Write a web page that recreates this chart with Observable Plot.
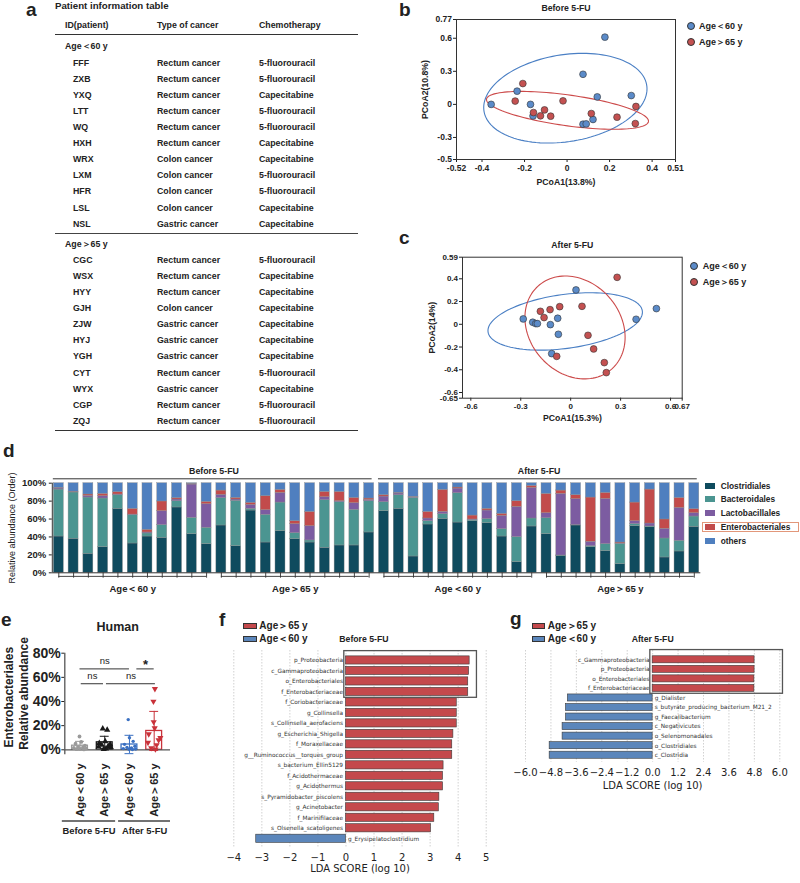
<!DOCTYPE html>
<html><head><meta charset="utf-8">
<script src="https://cdn.jsdelivr.net/npm/d3@7"></script>
<script src="https://cdn.jsdelivr.net/npm/@observablehq/plot@0.6"></script>
<style>
body{margin:0;background:#fff;}
#fig{position:relative;width:800px;height:883px;background:#fff;overflow:hidden;font-family:"Liberation Sans",Arial,sans-serif;color:#222;}
</style></head><body><div id="fig"></div>
<script>
// ---------------- DATA ----------------
// Panel a: patient table
const youngGroupLabel = "Age＜60 y";
const oldGroupLabel = "Age＞65 y";
const tableHeaders = ["ID(patient)", "Type of cancer", "Chemotherapy"];
const youngIds = ["FFF","ZXB","YXQ","LTT","WQ","HXH","WRX","LXM","HFR","LSL","NSL"];
const youngCancer = ["Rectum cancer","Rectum cancer","Rectum cancer","Rectum cancer","Rectum cancer","Rectum cancer","Colon cancer","Colon cancer","Colon cancer","Colon cancer","Gastric cancer"];
const youngChemo = ["5-fluorouracil","5-fluorouracil","Capecitabine","5-fluorouracil","5-fluorouracil","Capecitabine","Capecitabine","5-fluorouracil","5-fluorouracil","Capecitabine","Capecitabine"];
const oldIds = ["CGC","WSX","HYY","GJH","ZJW","HYJ","YGH","CYT","WYX","CGP","ZQJ"];
const oldCancer = ["Rectum cancer","Rectum cancer","Rectum cancer","Colon cancer","Gastric cancer","Gastric cancer","Gastric cancer","Rectum cancer","Gastric cancer","Rectum cancer","Rectum cancer"];
const oldChemo = ["5-fluorouracil","Capecitabine","Capecitabine","Capecitabine","Capecitabine","Capecitabine","Capecitabine","5-fluorouracil","Capecitabine","5-fluorouracil","5-fluorouracil"];

// Panel b: PCoA before 5-FU
const beforeYoungX = [-0.357,-0.235,-0.172,-0.16,0.075,0.178,0.142,0.302,0.075,0.09,0.122];
const beforeYoungY = [0,0.12,0,-0.105,0.273,0.61,0.068,0.08,-0.18,-0.177,-0.137];
const beforeOldX = [-0.208,-0.244,-0.158,-0.125,-0.106,-0.077,-0.019,0.114,0.235,0.324,0.321];
const beforeOldY = [0.189,0.03,-0.074,-0.104,-0.05,-0.107,0.032,-0.083,-0.116,-0.019,-0.174];
// ellipses: [cx, cy, ux, uy, vx, vy] (centre + conjugate semi-axes, data units)
const beforeYoungEllipse = [-0.008,0.056,0.384,0.085,0,0.398];
const beforeOldEllipse = [0.002,-0.054,0.381,-0.098,0,0.141];

// Panel c: PCoA after 5-FU
const afterYoungX = [-0.285,-0.228,-0.21,-0.2,-0.122,-0.078,-0.074,0.032,-0.114,0.393,0.515];
const afterYoungY = [0.047,0.018,0.006,0.006,-0.003,0.053,-0.088,0.302,-0.258,0.044,0.138];
const afterOldX = [-0.182,-0.16,-0.124,-0.066,0.068,0.279,0.104,0.138,0.202,0.214,-0.084];
const afterOldY = [0.114,0.059,0.129,0.155,0.158,0.413,-0.097,-0.217,-0.337,-0.425,-0.282];
const afterYoungEllipse = [-0.033,0.025,0.464,0.081,0,0.239];
const afterOldEllipse = [0.026,-0.028,0.301,-0.087,0,0.444];

// Panel d: relative abundance (Order), 44 samples
const orderNames = ["Clostridiales","Bacteroidales","Lactobacillales","Enterobacteriales","others"];
const clostridiales = [40.5,38,21.2,28.6,71.4,32.7,40.5,39,72.9,43.1,32, 52.8,29.7,69.5,33.8,46.5,37.5,33.8,27.9,30.5,30.5,45, 68.8,71.4,18.2,53.9,60.2,56.1,57.6,55.4,40.5,11.9,51.7, 43.1,19,52.8,28.6,24.2,9.7,52,50.9,17.1,23.8,51.3];
const bacteroidales = [52.4,51.6,62.8,54.3,15.2,31.6,3.4,14.2,7,18.2,18.2, 30.5,50.6,1.9,30.9,31.9,6.7,2.3,53.1,48.3,39.8,34.9, 10,15.2,65.4,3.7,5.2,32.7,1.1,4.5,8.2,27.9,8.9, 17.8,0.3,0.4,1.1,7.8,22.6,2.3,0.8,21.2,11.9,11.5];
const lactobacillales = [1.2,0.6,1.9,2.6,0.8,0.7,1.1,15.6,1.9,37.2,26.4, 3.7,1.5,4.4,5.2,10.8,10.1,15.9,3.4,1.1,7.4,1.5, 6.3,1.9,0.8,3,2.6,5.2,0.8,9.6,14.9,33.8,34.2, 5.6,68.8,29,4.9,50.5,0.4,3.3,3.3,10.8,36.8,3.7];
const enterobacteriales = [0.7,0.4,1.5,2.6,2.6,6.4,3,10.8,1.5,0.8,2.6, 4.8,1.8,2.3,15.6,3.4,3.3,16,5.9,10.4,5.9,1.5, 1.5,0.7,0.4,7.4,24.6,1.2,4.4,1.9,2.2,6.3,2.2, 21.6,3.7,4.4,49.4,6.7,1.1,20.8,37.9,10.4,11.1,4.5];
const others = [5.2,9.4,12.6,11.9,10,28.6,52,20.4,16.7,0.7,20.8, 8.2,16.4,21.9,14.5,7.4,42.4,32,9.7,9.7,16.4,17.1, 13.4,10.8,15.2,32,7.4,4.8,36.1,28.6,34.2,20.1,3, 11.9,8.2,13.4,16,10.8,66.2,21.6,7.1,40.5,16.4,29];
const dGroups = [{label:"Age＜60 y", first:0, last:10},{label:"Age＞65 y", first:11, last:21},{label:"Age＜60 y", first:22, last:32},{label:"Age＞65 y", first:33, last:43}];
const dPeriods = [{label:"Before 5-FU", first:0, last:21},{label:"After 5-FU", first:22, last:43}];

// Panel e: Enterobacteriales relative abundance
const eLabels = ["Age＜60 y","Age＞65 y","Age＜60 y","Age＞65 y"];
const eMeans = [3.4, 6.2, 4.4, 15.6];
const eSD = [3.6, 5.0, 7.6, 16.2];
const eBeforeYoung = [11,6.5,5,3.5,2.5,2,1.5,1,0.8,0.5,0.3];
const eBeforeYoungOffset = [-0.02,0.05,-0.18,0.2,-0.08,0.12,-0.25,0.25,0,-0.14,0.16];
const eBeforeOld = [17.5,16.5,7,5.5,4.5,4,3,2.5,2,1,0.5];
const eBeforeOldOffset = [-0.08,0.1,0.02,-0.22,0.22,-0.12,0.14,-0.25,0.25,0.05,-0.04];
const eAfterYoung = [25,10,7,4.5,3,2,1.5,1,0.6,0.4,0.2];
const eAfterYoungOffset = [-0.05,0,0.15,-0.2,0.22,-0.1,0.08,-0.25,0.25,-0.02,0.12];
const eAfterOld = [50.5,40,23,18,13,10,8,6,4,1.5,0.5];
const eAfterOldOffset = [0.03,-0.03,-0.02,0.02,-0.22,0.25,0.18,-0.25,0.1,-0.12,0.05];
const eSig = [{from:0,to:2,level:67,label:"ns"},{from:2.3,to:3.0,level:67,label:"*"},{from:0.05,to:0.95,level:54.7,label:"ns"},{from:1.07,to:3.05,level:54.7,label:"ns"}];
const ePeriods = ["Before 5-FU","After 5-FU"];

// Panel f: LEfSe before 5-FU
const fTaxa = ["p_Proteobacteria","c_Gammaproteobacteria","o_Enterobacteriales","f_Enterobacteriaceae","f_Coriobacteriaceae","g_Collinsella","s_Collinsella_aerofaciens","g_Escherichia_Shigella","f_Moraxellaceae","g__Ruminococcus__torques_group","s_bacterium_Ellin5129","f_Acidothermaceae","g_Acidothermus","s_Pyramidobacter_piscolens","g_Acinetobacter","f_Marinifilaceae","s_Olsenella_scatoligenes","g_Erysipelatoclostridium"];
const fScores = [4.41,4.39,4.36,4.36,3.95,3.95,3.95,3.83,3.79,3.79,3.48,3.46,3.46,3.33,3.31,3.15,3.03,-3.2];
const fTicks = [-4,-3,-2,-1,0,1,2,3,4,5];

// Panel g: LEfSe after 5-FU
const gTaxa = ["c_Gammaproteobacteria","p_Proteobacteria","o_Enterobacteriales","f_Enterobacteriaceae","g_Dialister","s_butyrate_producing_bacterium_M21_2","g_Faecalibacterium","c_Negativicutes","o_Selenomonadales","o_Clostridiales","c_Clostridia"];
const gScores = [4.81,4.81,4.8,4.8,-4.0,-4.09,-4.09,-4.25,-4.25,-4.86,-4.86];
const gTicks = [-6,-4.8,-3.6,-2.4,-1.2,0,1.2,2.4,3.6,4.8,6];

// ---------------- STYLE ----------------
const FONT = '"Liberation Sans", Arial, sans-serif';
const MPL = '"DejaVu Sans", sans-serif';
const dotColors = ["#5b8bc9","#c45151"];
const ellColors = ["#4a7fc4","#cc4a4a"];
const orderColors = ["#0f4b5e","#4b9591","#7c5ca1","#c24b4b","#4f7fbf"];
const eColors = ["#9a9a9a","#1a1a1a","#3a70c2","#c9323a"];
const ldaRed = "#c4494c", ldaBlue = "#5b86bb";
const MID = {textAnchor:"middle", lineAnchor:"middle"};

const fig = document.getElementById("fig");
function put(node, left, top) { node.style.position="absolute"; node.style.left=left+"px"; node.style.top=top+"px"; fig.appendChild(node); return node; }
function txt(s, x, yc, {size=9, weight="bold", anchor="start", family=FONT, color="#222"}={}) {
  const d = document.createElement("div");
  d.textContent = s;
  Object.assign(d.style, {position:"absolute", left:x+"px", top:(yc-size/2)+"px", fontSize:size+"px", lineHeight:size+"px", fontWeight:weight, fontFamily:family, color, whiteSpace:"nowrap"});
  if (anchor==="middle") d.style.transform="translateX(-50%)";
  if (anchor==="end") d.style.transform="translateX(-100%)";
  fig.appendChild(d); return d;
}
function box(x, y, w, h, css) {
  const d = document.createElement("div");
  Object.assign(d.style, {position:"absolute", left:x+"px", top:y+"px", width:w+"px", height:h+"px", boxSizing:"border-box"}, css);
  fig.appendChild(d); return d;
}
const baseStyle = {background:"transparent", overflow:"visible", color:"#222"};

// ---------------- PANEL LABELS ----------------
[["a",26,9.6],["b",399,9.6],["c",399,237.5],["d",3,450],["e",1,619],["f",219,619],["g",510,618]]
  .forEach(([l,x,y])=>txt(l,x,y,{size:19}));

// ---------------- PANEL a ----------------
txt("Patient information table", 55, 6.2, {size:9.7});
const colX = [65,157,259];
tableHeaders.forEach((h,i)=>txt(h, colX[i], 25.5, {size:8.8}));
box(55, 33.5, 303, 1.4, {background:"#333"});
function tableBlock(label, ids, cancers, chemos, yLabel, yFirst, pitch) {
  txt(label, colX[0], yLabel, {size:8.8});
  ids.forEach((id,i)=>{
    const y = yFirst + pitch*i;
    txt(id, colX[0]+8, y, {size:8.8});
    txt(cancers[i], colX[1], y, {size:8.8});
    txt(chemos[i], colX[2], y, {size:8.8});
  });
}
tableBlock(youngGroupLabel, youngIds, youngCancer, youngChemo, 46, 63.3, 16.07);
box(55, 232.8, 303, 1, {background:"#444"});
tableBlock(oldGroupLabel, oldIds, oldCancer, oldChemo, 244.3, 260.7, 16.03);
box(55, 429.5, 303, 1.6, {background:"#333"});

// ---------------- PANELS b, c ----------------
function ellipsePoints(params, g) {
  const [cx,cy,ux,uy,vx,vy] = params;
  return d3.range(0,121).map(k=>{ const t=2*Math.PI*k/120; return {g, x:cx+ux*Math.cos(t)+vx*Math.sin(t), y:cy+uy*Math.cos(t)+vy*Math.sin(t)}; });
}
function pcoa(o) {
  const pts = [...o.yx.map((x,i)=>({x,y:o.yy[i],g:0})), ...o.ox.map((x,i)=>({x,y:o.oy[i],g:1}))];
  const ell = [...ellipsePoints(o.ey,0), ...ellipsePoints(o.eo,1)];
  return Plot.plot({
    width:400, height:200, marginLeft:o.m[0], marginRight:o.m[1], marginTop:o.m[2], marginBottom:o.m[3],
    style:{...baseStyle, fontFamily:FONT, fontSize:o.fs, fontWeight:"bold"},
    color:{type:"identity"},
    x:{domain:o.xd, ticks:o.xt, tickFormat:d=>String(d), tickSize:3, tickPadding:2, label:null},
    y:{domain:o.yd, ticks:o.yt, tickFormat:d=>String(d), tickSize:3, tickPadding:1.5, label:null},
    marks:[
      Plot.frame({stroke:"#333", strokeWidth:1}),
      Plot.line(ell,{x:"x",y:"y",z:"g",stroke:d=>ellColors[d.g],strokeWidth:1.1}),
      Plot.dot(pts,{x:"x",y:"y",r:3.4,fill:d=>dotColors[d.g],stroke:"#333",strokeWidth:0.6}),
      Plot.text([o.title],{frameAnchor:"top",dy:o.tdy,fontSize:8.7,...MID}),
      Plot.text([o.xl],{frameAnchor:"bottom",dy:o.xdy,fontSize:8.7,...MID}),
      Plot.text([o.yl],{frameAnchor:"left",dx:o.ydx,rotate:-90,fontSize:8.7,...MID})
    ]
  });
}
put(pcoa({yx:beforeYoungX,yy:beforeYoungY,ox:beforeOldX,oy:beforeOldY,ey:beforeYoungEllipse,eo:beforeOldEllipse, fs:"8.5px",
  m:[56,125,19,41], xd:[-0.52,0.51], yd:[-0.5,0.77], xt:[-0.52,-0.4,-0.2,0,0.2,0.4,0.51], yt:[-0.5,-0.3,0,0.3,0.6,0.77],
  title:"Before 5-FU", tdy:-11, xl:"PCoA1(13.8%)", xdy:22.7, yl:"PCoA2(10.8%)", ydx:-31}), 400, 0);
put(pcoa({yx:afterYoungX,yy:afterYoungY,ox:afterOldX,oy:afterOldY,ey:afterYoungEllipse,eo:afterOldEllipse, fs:"8px",
  m:[62,118.3,26.7,32.3], xd:[-0.65,0.67], yd:[-0.65,0.59], xt:[-0.6,-0.3,0,0.3,0.6,0.67], yt:[-0.65,-0.6,-0.4,-0.2,0,0.2,0.4,0.59],
  title:"After 5-FU", tdy:-11.7, xl:"PCoA1(15.3%)", xdy:20, yl:"PCoA2(14%)", ydx:-30}), 400, 230);
// legends b, c
function dotLegend(cx, y0, y1, tx) {
  [[y0,0,youngGroupLabel],[y1,1,oldGroupLabel]].forEach(([y,g,l])=>{
    box(cx-4, y-4, 8, 8, {background:dotColors[g], border:"0.7px solid #333", borderRadius:"50%"});
    txt(l, tx, y, {size:9});
  });
}
dotLegend(691, 26, 42.3, 699);
dotLegend(694.3, 266, 282.3, 702.7);

// ---------------- PANEL d ----------------
const series = [clostridiales, bacteroidales, lactobacillales, enterobacteriales, others];
const dRows = [];
clostridiales.forEach((_, i)=>{ let y0=0; series.forEach((s,k)=>{ dRows.push({i,k,y1:y0,y2:y0+s[i]}); y0+=s[i]; }); });
const dXmin = -0.44, dXmax = 43.44;
put(Plot.plot({
  width:705, height:145, marginLeft:51.8, marginRight:4.7, marginTop:32.7, marginBottom:22.7,
  style:{...baseStyle, fontFamily:FONT, fontSize:"9.5px", fontWeight:"bold"},
  color:{type:"identity"},
  x:{domain:[dXmin,dXmax], axis:null},
  y:{domain:[0,100], ticks:[0,20,40,60,80,100], tickFormat:d=>d+"%", tickSize:3, tickPadding:3, label:null},
  marks:[
    Plot.rect(dRows,{x1:d=>d.i-0.338,x2:d=>d.i+0.338,y1:"y1",y2:"y2",fill:d=>orderColors[d.k],stroke:"#8c8c8c",strokeWidth:0.4}),
    Plot.ruleX([dXmin],{y1:0,y2:100,stroke:"#333"}),
    Plot.ruleY([0],{stroke:"#333"}),
    Plot.ruleX(clostridiales.map((_,i)=>i),{x:d=>d,y1:0,y2:-6,stroke:"#333",strokeWidth:0.9}),
    Plot.ruleY(dGroups,{x1:"first",x2:"last",y:()=>-4,stroke:"#333",strokeWidth:0.9}),
    Plot.text(dGroups,{x:g=>(g.first+g.last)/2,y:()=>-17.5,text:"label",fontSize:9.5}),
    Plot.ruleY(dPeriods,{x1:p=>p.first-0.37,x2:p=>p.last+0.2,y:()=>104.9,stroke:"#333",strokeWidth:1}),
    Plot.text(dPeriods,{x:p=>(p.first+p.last)/2,y:()=>113.4,text:"label",fontSize:8.8}),
    Plot.text(["Relative abundance (Order)"],{frameAnchor:"left",dx:-40,rotate:-90,fontSize:9,fontWeight:"normal",...MID})
  ]
}), 0, 450);
// legend d
const legY = [485.7,499.3,513.3,527,540.7];
orderNames.forEach((n,k)=>{
  box(705, legY[k]-3, 10, 6, {background:orderColors[k]});
  txt(n, 720.7, legY[k], {size:8.3});
});
box(702, 521.7, 97, 10.6, {border:"1px solid #e2977a"});

// ---------------- PANEL e ----------------
const ePts = [
  ...eBeforeYoung.map((v,j)=>({g:0,v,off:eBeforeYoungOffset[j]})),
  ...eBeforeOld.map((v,j)=>({g:1,v,off:eBeforeOldOffset[j]})),
  ...eAfterYoung.map((v,j)=>({g:2,v,off:eAfterYoungOffset[j]})),
  ...eAfterOld.map((v,j)=>({g:3,v,off:eAfterOldOffset[j]}))
];
const eBars = eMeans.map((m,i)=>({i,m,sd:eSD[i],c:eColors[i],label:eLabels[i]}));
const eXmin = -0.615, eXmax = 3.66, eSplit = 1.5;
const ePer = [{label:ePeriods[0], x1:eXmin-0.1, x2:eSplit-0.06},{label:ePeriods[1], x1:eSplit+0.06, x2:eXmax}];
put(Plot.plot({
  width:220, height:273, marginLeft:64.3, marginRight:50, marginTop:42.7, marginBottom:128.87,
  style:{...baseStyle, fontFamily:FONT, fontSize:"14px", fontWeight:"bold"},
  color:{type:"identity"},
  x:{domain:[eXmin,eXmax], axis:null},
  y:{domain:[-4,80], ticks:[0,20,40,60,80], tickFormat:d=>d+"%", tickSize:3, tickPadding:1, label:null},
  marks:[
    Plot.ruleX([eXmin],{y1:-4,y2:80,stroke:"#555",strokeWidth:1.3}),
    Plot.rect(eBars,{x1:d=>d.i-0.32,x2:d=>d.i+0.32,y1:()=>0,y2:"m",fill:"#fff",stroke:"c",strokeWidth:1.3}),
    Plot.ruleY([0],{stroke:"#555",strokeWidth:1.3}),
    Plot.ruleX(eBars,{x:"i",y1:d=>d.m-d.sd,y2:d=>d.m+d.sd,stroke:"c",strokeWidth:1}),
    Plot.ruleY(eBars,{x1:d=>d.i-0.18,x2:d=>d.i+0.18,y:d=>d.m+d.sd,stroke:"c",strokeWidth:1}),
    Plot.ruleY(eBars,{x1:d=>d.i-0.18,x2:d=>d.i+0.18,y:d=>d.m-d.sd,stroke:"c",strokeWidth:1}),
    Plot.dot(ePts.filter(d=>d.g===0),{x:d=>d.g+d.off,y:"v",r:1.9,fill:eColors[0],symbol:"circle"}),
    Plot.dot(ePts.filter(d=>d.g===1),{x:d=>d.g+d.off,y:"v",r:2.3,fill:eColors[1],symbol:"triangle"}),
    Plot.dot(ePts.filter(d=>d.g===2),{x:d=>d.g+d.off,y:"v",r:1.7,fill:eColors[2],symbol:"circle"}),
    Plot.dot(ePts.filter(d=>d.g===3),{x:d=>d.g+d.off,y:"v",r:2.3,fill:eColors[3],symbol:"triangle",rotate:180}),
    Plot.ruleY(eSig,{x1:"from",x2:"to",y:"level",stroke:"#333",strokeWidth:1}),
    Plot.text(eSig.filter(d=>d.label==="ns"),{x:d=>(d.from+d.to)/2,y:d=>d.level+6.3,text:"label",fontSize:9.5,fontWeight:"normal"}),
    Plot.text(eSig.filter(d=>d.label!=="ns"),{x:d=>(d.from+d.to)/2,y:d=>d.level+3.3,text:"label",fontSize:13}),
    Plot.text(eBars,{x:"i",y:()=>-11.3,text:"label",rotate:-90,textAnchor:"end",fontSize:11}),
    Plot.ruleY(ePer,{x1:"x1",x2:"x2",y:()=>-59,stroke:"#444",strokeWidth:1.6}),
    Plot.text(ePer,{x:d=>(d.x1+d.x2)/2,y:()=>-67.4,text:"label",fontSize:9.4}),
    Plot.text(["Human"],{frameAnchor:"top",dy:-26,fontSize:12.5,...MID}),
    Plot.text(["Enterobacteriales"],{frameAnchor:"left",dx:-55.3,dy:-6.7,rotate:-90,fontSize:12,...MID}),
    Plot.text(["Relative abundance"],{frameAnchor:"left",dx:-40.3,dy:-10.4,rotate:-90,fontSize:12,...MID})
  ]
}), 0, 610);

// ---------------- PANELS f, g ----------------
function lefse(o) {
  const rows = o.taxa.map((name,i)=>({i,name,v:o.scores[i]}));
  return Plot.plot({
    width:290, height:273, marginLeft:o.m[0], marginRight:o.m[1], marginTop:o.m[2], marginBottom:o.m[3],
    style:{...baseStyle, fontFamily:MPL, fontSize:"10px"},
    color:{type:"identity"},
    x:{domain:o.xd, ticks:o.ticks, tickFormat:o.fmt, tickSize:0, tickPadding:o.pad, label:null},
    y:{domain:o.yd, reverse:true, axis:null},
    marks:[
      Plot.ruleX(o.ticks,{y1:o.yd[0],y2:o.yd[1],stroke:"#bdbdbd",strokeWidth:0.7,strokeDasharray:"1.5,1.5"}),
      Plot.rect(rows,{x1:()=>0,x2:"v",y1:d=>d.i-o.h,y2:d=>d.i+o.h,fill:d=>d.v>0?ldaRed:ldaBlue,stroke:"#3a3a3a",strokeWidth:0.6}),
      Plot.text(rows.filter(d=>d.v>0),{x:()=>0,y:"i",text:"name",textAnchor:"end",dx:-3,fontSize:5.8,fill:"#333"}),
      Plot.text(rows.filter(d=>d.v<0),{x:()=>0,y:"i",text:"name",textAnchor:"start",dx:2,fontSize:5.8,fill:"#333"}),
      Plot.rect([o.box],{x1:"x1",x2:"x2",y1:"y1",y2:"y2",fill:"none",stroke:"#555",strokeWidth:1.3}),
      Plot.text(["LDA SCORE (log 10)"],{frameAnchor:"bottom",dy:o.ldy,fontSize:10,...MID})
    ]
  });
}
const fmtInt = d => (d<0?"−":"")+Math.abs(d);
const fmtDec = d => (d<0?"−":"")+Math.abs(d).toFixed(1);
put(lefse({taxa:fTaxa, scores:fScores, m:[13.3,24.3,40,35.7], xd:[-4,5], yd:[-0.95,17.86], ticks:fTicks, fmt:fmtInt, pad:6, h:0.39,
  box:{x1:-0.06,x2:4.67,y1:-0.89,y2:3.56}, ldy:21}), 220, 610);
put(lefse({taxa:gTaxa, scores:gScores, m:[15,20.7,40,121.3], xd:[-6,6], yd:[-0.975,10.73], ticks:gTicks, fmt:fmtDec, pad:7, h:0.37,
  box:{x1:-0.11,x2:6.15,y1:-1.02,y2:3.56}, ldy:23.3}), 510, 610);
// legends f, g
function ldaLegend(x, tx, periodX, period) {
  box(x, 622.7, 13.3, 6, {background:ldaRed, border:"0.6px solid #333"});
  txt(oldGroupLabel, tx, 625.7, {size:10});
  box(x, 636.3, 13.3, 6, {background:ldaBlue, border:"0.6px solid #333"});
  txt(youngGroupLabel, tx, 639.3, {size:10});
  txt(period, periodX, 639.3, {size:8.7});
}
ldaLegend(243.3, 259.3, 339.3, "Before 5-FU");
ldaLegend(531.7, 547.7, 631.7, "After 5-FU");
</script></body></html>
